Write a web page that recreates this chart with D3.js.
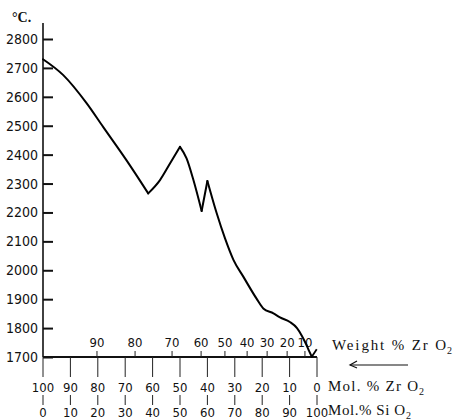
<!DOCTYPE html>
<html>
<head>
<meta charset="utf-8">
<script src="https://cdn.jsdelivr.net/npm/d3@7"></script>
<style>
  body { margin: 0; background: #fff; }
</style>
</head>
<body>
<div id="chart"></div>
<script>
// Liquidus curve (Mol. % ZrO2 vs °C)
const molZrO2 = [100, 92.6, 84.1, 78.0, 69.5, 61.6, 57.3, 53.6, 50.0, 47.6, 45.1, 42.1, 40.0,
                 36.6, 33.6, 30.5, 26.9, 22.0, 19.6, 15.9, 13.5, 9.9, 7.3, 5.5, 4.0, 2.9, 1.9];
const temperature = [2730, 2675, 2578, 2495, 2380, 2266, 2312, 2370, 2427, 2387, 2312, 2205, 2309,
                     2197, 2111, 2036, 1978, 1901, 1868, 1851, 1837, 1821, 1800, 1773, 1745, 1721, 1701];
// the sharp corners of the curve (eutectic minimum, maxima, dip)
const cornerMol = [61.6, 50.0, 42.1, 40.0];

// little check mark where the curve meets the axis
const checkMol = [1.9, 0.1];
const checkTemp = [1701, 1727];

// axes
const tempTicks = [1700, 1800, 1900, 2000, 2100, 2200, 2300, 2400, 2500, 2600, 2700, 2800];
const tempTop = 2855;
const molTicks = [100, 90, 80, 70, 60, 50, 40, 30, 20, 10, 0];
const weightLabels = [90, 80, 70, 60, 50, 40, 30, 20, 10];
const weightAtMol = [80.3, 66.4, 52.9, 42.3, 33.6, 25.5, 18.2, 10.9, 4.4];

const width = 454, height = 420;
const numFont = "'Liberation Sans Narrow', 'DejaVu Sans Condensed', sans-serif";
const serifFont = "'Liberation Serif', 'DejaVu Serif', serif";

const svg = d3.select("#chart").append("svg")
    .attr("width", width)
    .attr("height", height)
    .style("display", "block");

const x = d3.scaleLinear().domain([100, 0]).range([43, 317]);
const y = d3.scaleLinear().domain([1700, 2800]).range([357, 39]);

// Y axis (ticks point inward, labels on the left)
const yAxis = svg.append("g")
    .attr("transform", `translate(${x(100)},0)`)
    .call(d3.axisLeft(y).tickValues(tempTicks).tickFormat(d3.format("d"))
        .tickSizeInner(-10).tickSizeOuter(0).tickPadding(5));
yAxis.select(".domain").remove();
yAxis.selectAll("line").attr("stroke", "#111").attr("stroke-width", 2);
yAxis.selectAll("text")
    .style("font-family", numFont)
    .style("font-size", "14px")
    .attr("fill", "#111");

svg.append("line")
    .attr("x1", x(100)).attr("x2", x(100))
    .attr("y1", y(tempTop)).attr("y2", y(1700))
    .attr("stroke", "#111").attr("stroke-width", 1.6);

svg.append("text")
    .attr("x", 12).attr("y", 22)
    .style("font-family", serifFont)
    .style("font-size", "14px")
    .style("font-weight", "bold")
    .attr("fill", "#111")
    .text("°C.");

// base line
svg.append("line")
    .attr("x1", x(100)).attr("x2", x(0))
    .attr("y1", y(1700)).attr("y2", y(1700))
    .attr("stroke", "#111").attr("stroke-width", 2);

// Mol. % ticks below the base line
const base = y(1700);
const molG = svg.append("g");
molG.selectAll(".tick1").data(molTicks).enter().append("line")
    .attr("x1", d => x(d)).attr("x2", d => x(d))
    .attr("y1", base).attr("y2", base + 20)
    .attr("stroke", "#222").attr("stroke-width", 1);
molG.selectAll(".lab1").data(molTicks).enter().append("text")
    .attr("x", d => x(d)).attr("y", base + 35)
    .attr("text-anchor", "middle")
    .style("font-family", numFont).style("font-size", "13px")
    .attr("fill", "#111")
    .text(d => d);
molG.selectAll(".tick2").data(molTicks).enter().append("line")
    .attr("x1", d => x(d)).attr("x2", d => x(d))
    .attr("y1", base + 38).attr("y2", base + 48)
    .attr("stroke", "#222").attr("stroke-width", 1);
molG.selectAll(".lab2").data(molTicks).enter().append("text")
    .attr("x", d => x(d)).attr("y", base + 60)
    .attr("text-anchor", "middle")
    .style("font-family", numFont).style("font-size", "13px")
    .attr("fill", "#111")
    .text(d => 100 - d);

// Weight % ticks above the base line
const wG = svg.append("g");
wG.selectAll("line").data(weightAtMol).enter().append("line")
    .attr("x1", d => x(d)).attr("x2", d => x(d))
    .attr("y1", base - 6).attr("y2", base)
    .attr("stroke", "#222").attr("stroke-width", 1);
wG.selectAll("text").data(weightLabels).enter().append("text")
    .attr("x", (d, i) => x(weightAtMol[i])).attr("y", base - 10)
    .attr("text-anchor", "middle")
    .style("font-family", numFont).style("font-size", "13px")
    .attr("fill", "#111")
    .text(d => d);

// curve: smooth pieces between the sharp corners
const pts = molZrO2.map((m, i) => [m, temperature[i]]);
const pieces = [];
let current = [];
pts.forEach(p => {
    current.push(p);
    if (cornerMol.includes(p[0])) {
        pieces.push(current);
        current = [p];
    }
});
pieces.push(current);

const smooth = d3.line().x(d => x(d[0])).y(d => y(d[1])).curve(d3.curveMonotoneX);
svg.selectAll(".piece").data(pieces).enter().append("path")
    .attr("class", "piece")
    .attr("fill", "none")
    .attr("stroke", "#000")
    .attr("stroke-width", 2)
    .attr("stroke-linecap", "round")
    .attr("d", smooth);

svg.append("path")
    .datum(checkMol.map((m, i) => [m, checkTemp[i]]))
    .attr("fill", "none")
    .attr("stroke", "#000")
    .attr("stroke-width", 1.8)
    .attr("d", d3.line().x(d => x(d[0])).y(d => y(d[1])));

// axis names on the right
function formulaLabel(main, sub, xPos, yPos, len) {
    svg.append("text")
        .attr("x", xPos).attr("y", yPos)
        .attr("textLength", len)
        .attr("lengthAdjust", "spacing")
        .style("font-family", serifFont)
        .style("font-size", "15px")
        .attr("fill", "#111")
        .text(main);
    svg.append("text")
        .attr("x", xPos + len + 1).attr("y", yPos + 4)
        .style("font-family", serifFont)
        .style("font-size", "10px")
        .attr("fill", "#111")
        .text(sub);
}
formulaLabel("Weight % Zr O", "2", 332, 350, 114);
formulaLabel("Mol. % Zr O", "2", 328, 391, 90);
formulaLabel("Mol.% Si O", "2", 328, 415, 77);

// arrow pointing left
svg.append("line")
    .attr("x1", 350).attr("x2", 408)
    .attr("y1", 365).attr("y2", 365)
    .attr("stroke", "#111").attr("stroke-width", 1.2);
svg.append("path")
    .attr("d", "M357,361 L350,365 L357,368")
    .attr("fill", "none")
    .attr("stroke", "#111").attr("stroke-width", 1.2);
</script>
</body>
</html>
